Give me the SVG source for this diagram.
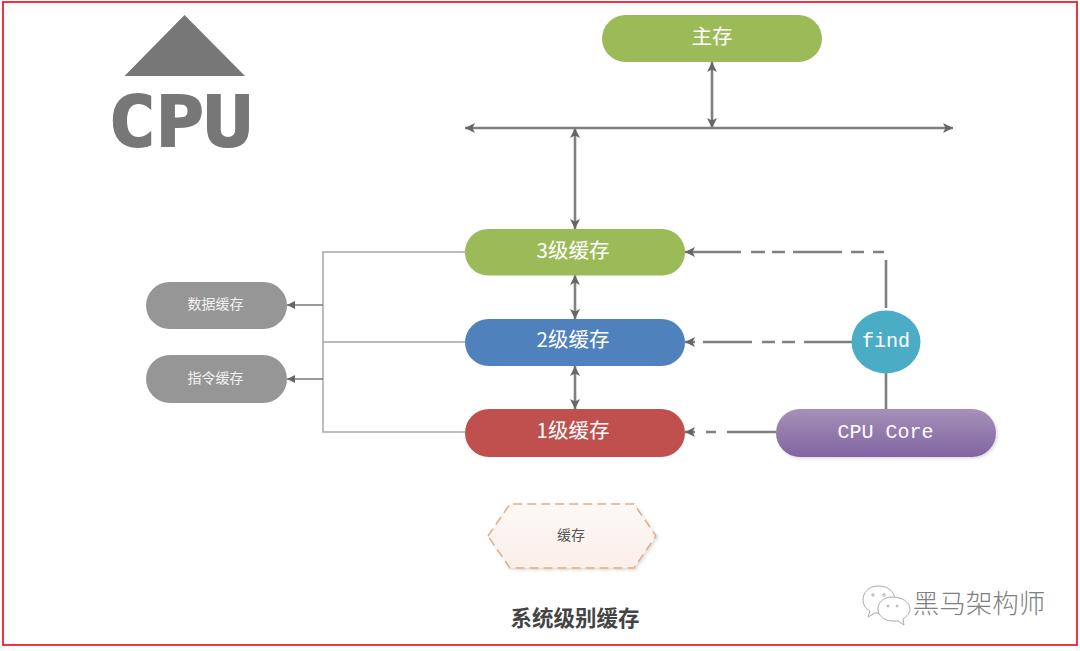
<svg xmlns="http://www.w3.org/2000/svg" width="1080" height="651" viewBox="0 0 1080 651">
<defs>
<linearGradient id="purple" x1="0" y1="0" x2="0" y2="1"><stop offset="0" stop-color="#a591b8"/><stop offset="1" stop-color="#8164a2"/></linearGradient>
<linearGradient id="peach" x1="0" y1="0" x2="0" y2="1"><stop offset="0" stop-color="#fdf8f5"/><stop offset="1" stop-color="#fbefe9"/></linearGradient>
<filter id="soft" x="-5%" y="-10%" width="112%" height="125%"><feDropShadow dx="1.5" dy="1.5" stdDeviation="1.5" flood-color="#000" flood-opacity="0.15"/></filter>
<marker id="head" markerUnits="userSpaceOnUse" markerWidth="12" markerHeight="10" refX="10" refY="5" orient="auto-start-reverse"><path d="M0,0 L10,5 L0,10 L2.5,5 Z" fill="#666"/></marker>
<marker id="smallhead" markerUnits="userSpaceOnUse" markerWidth="9" markerHeight="8" refX="8" refY="4" orient="auto-start-reverse"><path d="M0,0 L8,4 L0,8 Z" fill="#666"/></marker>
</defs>
<style>
.label{font-family:"Noto Sans CJK SC","Liberation Serif",serif;fill:#fff;text-anchor:middle;font-size:20.500px}
.small{font-family:"Noto Sans CJK SC",sans-serif;font-size:14px;text-anchor:middle;fill:#f2f2f2}
.mono{font-family:"Liberation Mono",monospace;fill:#fff;text-anchor:middle;font-size:20px}
.thick{stroke:#808080;stroke-width:2.600;fill:none}
.thin{stroke:#a6a6a6;stroke-width:1.500;fill:none}
.arrow{stroke:#7a7a7a;stroke-width:1.600;fill:none}
</style>
<rect x="3" y="2" width="1074" height="643" fill="#fff" stroke="#f01e2c" stroke-width="1.800"/>
<g id="cpu-logo">
<polygon points="184.500,15 245,76 124.500,76" fill="#777"/>
<text x="180" y="146" font-family="DejaVu Sans Mono, monospace" font-weight="700" font-size="70" fill="#777" stroke="#777" stroke-width="2" text-anchor="middle" textLength="144" lengthAdjust="spacingAndGlyphs">CPU</text>
</g>
<g id="connectors">
<path class="thick" d="M712,62 V128" marker-start="url(#head)" marker-end="url(#head)"/>
<path class="thick" d="M465,128 H953" marker-start="url(#head)" marker-end="url(#head)"/>
<path class="thick" d="M575,128 V229" marker-start="url(#head)" marker-end="url(#head)"/>
<path class="thick" d="M575,275 V319" marker-start="url(#head)" marker-end="url(#head)"/>
<path class="thick" d="M575,366 V409" marker-start="url(#head)" marker-end="url(#head)"/>
<path class="thin" d="M465,252 H323 V432 H465 M323,342 H465"/>
<path class="arrow" d="M323,305 H287" marker-end="url(#smallhead)"/>
<path class="arrow" d="M323,379 H287" marker-end="url(#smallhead)"/>
<path class="thick" d="M741,252 H685" marker-end="url(#head)"/>
<path class="thick" d="M751,252 H765 M772,252 H785 M793,252 H842 M851,252 H864 M873,252 H884 M886,260 V308"/>
<path class="thick" d="M695,342 H685" marker-end="url(#head)"/>
<path class="thick" d="M703,342 H752 M762,342 H775 M782,342 H795 M804,342 H852"/>
<path class="thick" d="M695,432 H685" marker-end="url(#head)"/>
<path class="thick" d="M706,432 H716 M727,432 H776 M886,372 V409"/>
</g>
<g id="main-memory"><rect x="602" y="15" width="220" height="47" rx="23.500" fill="#9bbb59"/><text class="label" x="712" y="44">主存</text></g>
<g id="l3"><rect x="465" y="229" width="220" height="46.500" rx="23" fill="#9bbb59"/><text class="label" x="573" y="258">3级缓存</text></g>
<g id="l2"><rect x="465" y="319" width="220" height="47" rx="23.500" fill="#4f81bd"/><text class="label" x="573" y="347">2级缓存</text></g>
<g id="l1"><rect x="465" y="409" width="220" height="48" rx="24" fill="#c0504d"/><text class="label" x="573" y="438">1级缓存</text></g>
<g id="data-cache"><rect x="146" y="282" width="141" height="47" rx="23.500" fill="#969696"/><text class="small" x="215.500" y="309">数据缓存</text></g>
<g id="instruction-cache"><rect x="146" y="355" width="141" height="48" rx="24" fill="#969696"/><text class="small" x="215.500" y="383">指令缓存</text></g>
<g id="find"><ellipse cx="886" cy="342" rx="34.500" ry="31.500" fill="#4bacc6"/><text class="mono" x="886" y="347">find</text></g>
<g id="cpu-core"><rect x="776" y="409" width="220" height="48" rx="24" fill="url(#purple)" filter="url(#soft)"/><text class="mono" x="885.500" y="438">CPU Core</text></g>
<g id="cache-legend"><polygon points="488,536 510,504 634,504 656,536 634,568 510,568" fill="url(#peach)" stroke="#e0ad85" stroke-width="1.500" stroke-dasharray="9 5" filter="url(#soft)"/><text x="571" y="540" font-family="Noto Sans CJK SC, sans-serif" font-size="14" fill="#555" text-anchor="middle">缓存</text></g>
<text x="575" y="626" font-family="Noto Sans CJK SC, sans-serif" font-size="21.500" font-weight="700" fill="#444" text-anchor="middle">系统级别缓存</text>
<g id="watermark" fill="#fff" stroke="#aaa" stroke-width="1">
<path d="M879,586 C868,586 863,593 863,600 C863,605 866,609 870,611 L868,617 L875,613 L881,613 C890,611 895,606 895,600 C895,592 888,586 879,586 Z"/>
<path d="M892,597 C883,597 878,603 878,609 C878,616 885,621 892,621 L898,621 L904,625 L903,619 C907,616 910,613 910,609 C910,602 902,597 892,597 Z"/>
<circle cx="873" cy="595" r="1.200"/><circle cx="884" cy="595" r="1.200"/><circle cx="888" cy="606" r="1"/><circle cx="897" cy="606" r="1"/>
<text x="979" y="613" stroke="none" fill="#808080" font-family="Noto Sans CJK SC, sans-serif" font-weight="300" font-size="26.500" text-anchor="middle">黑马架构师</text>
</g>
</svg>
